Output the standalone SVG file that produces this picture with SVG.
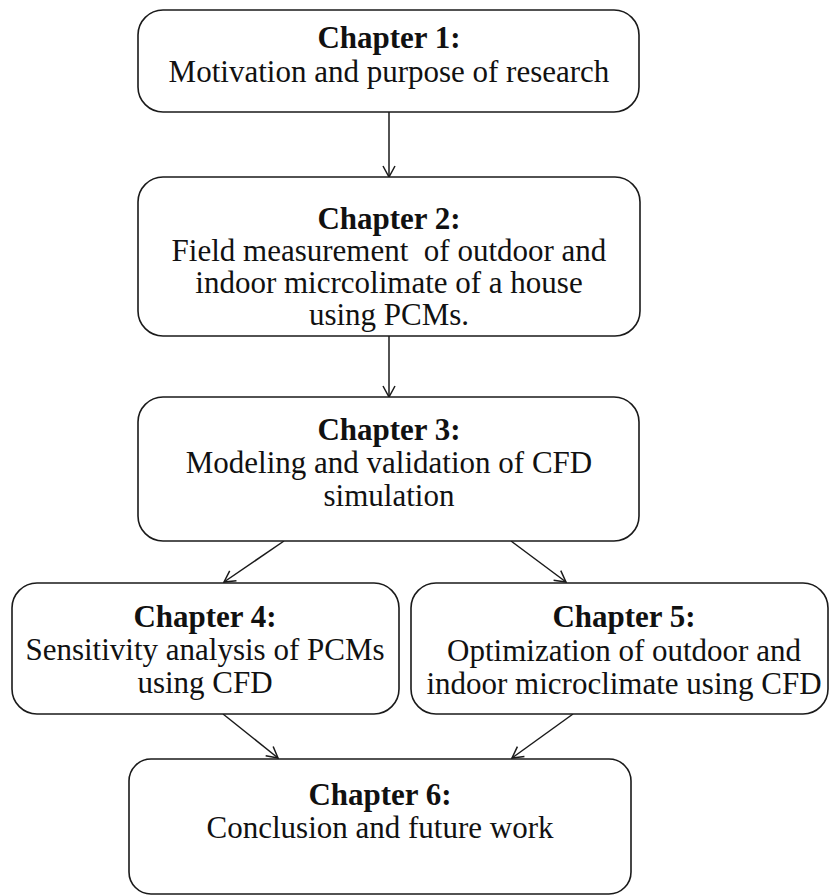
<svg xmlns="http://www.w3.org/2000/svg" width="829" height="895" viewBox="0 0 829 895">
  <style>
    .box { fill: #ffffff; stroke: #1a1a1a; stroke-width: 1.6; }
    .t { font-family: "Liberation Serif", "Times New Roman", serif; font-size: 31px; fill: #111111; text-anchor: middle; }
    .b { font-weight: bold; }
    .conn { stroke: #1a1a1a; stroke-width: 1.5; fill: none; marker-end: url(#arr); }
  </style>
  <defs>
    <marker id="arr" markerUnits="userSpaceOnUse" viewBox="-1 -7 13 14" refX="11" refY="0" markerWidth="13" markerHeight="14" orient="auto">
      <path d="M0,-6 L11,0 L0,6" fill="none" stroke="#1a1a1a" stroke-width="1.5"/>
    </marker>
  </defs>
  <rect width="829" height="895" fill="#ffffff"/>

  <g id="connectors">
    <line class="conn" x1="389" y1="112" x2="389" y2="177"/>
    <line class="conn" x1="389" y1="336" x2="389" y2="397"/>
    <line class="conn" x1="284" y1="541" x2="224" y2="582"/>
    <line class="conn" x1="511" y1="541" x2="566" y2="582"/>
    <line class="conn" x1="223" y1="714" x2="278" y2="758"/>
    <line class="conn" x1="573" y1="714" x2="512" y2="758"/>
  </g>

  <g id="chapter1">
    <rect class="box" x="138" y="10" width="501" height="102" rx="25"/>
    <text class="t b" x="389" y="48">Chapter 1:</text>
    <text class="t" x="389" y="82">Motivation and purpose of research</text>
  </g>

  <g id="chapter2">
    <rect class="box" x="138" y="177" width="502" height="159" rx="25"/>
    <text class="t b" x="389" y="229">Chapter 2:</text>
    <text class="t" x="389" y="261" xml:space="preserve">Field measurement  of outdoor and</text>
    <text class="t" x="389" y="293">indoor micrcolimate of a house</text>
    <text class="t" x="389" y="325">using PCMs.</text>
  </g>

  <g id="chapter3">
    <rect class="box" x="138" y="397" width="501" height="144" rx="25"/>
    <text class="t b" x="389" y="440">Chapter 3:</text>
    <text class="t" x="389" y="473">Modeling and validation of CFD</text>
    <text class="t" x="389" y="506">simulation</text>
  </g>

  <g id="chapter4">
    <rect class="box" x="12" y="583" width="387" height="131" rx="25"/>
    <text class="t b" x="205" y="627">Chapter 4:</text>
    <text class="t" x="205" y="660">Sensitivity analysis of PCMs</text>
    <text class="t" x="205" y="693">using CFD</text>
  </g>

  <g id="chapter5">
    <rect class="box" x="411" y="583" width="417" height="131" rx="25"/>
    <text class="t b" x="624" y="627">Chapter 5:</text>
    <text class="t" x="624" y="661">Optimization of outdoor and</text>
    <text class="t" x="624" y="694">indoor microclimate using CFD</text>
  </g>

  <g id="chapter6">
    <rect class="box" x="129" y="759" width="502" height="135" rx="22"/>
    <text class="t b" x="380" y="805">Chapter 6:</text>
    <text class="t" x="380" y="838">Conclusion and future work</text>
  </g>
</svg>
